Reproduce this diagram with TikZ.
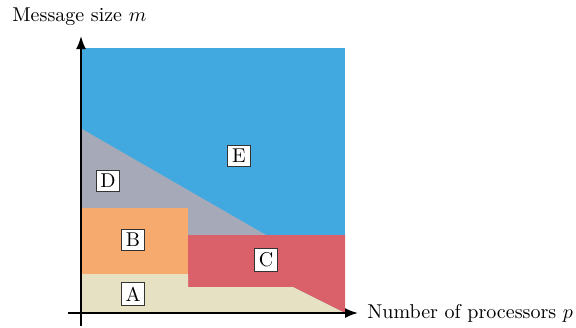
\documentclass[tikz,border=0pt]{standalone}
\usetikzlibrary{arrows.meta}
\definecolor{cE}{RGB}{66,169,224}
\definecolor{cD}{RGB}{165,169,184}
\definecolor{cB}{RGB}{246,170,110}
\definecolor{cC}{RGB}{218,96,106}
\definecolor{cA}{RGB}{230,225,194}
\begin{document}
\begin{tikzpicture}[x=0.5pt,y=-0.5pt,
  lab/.style={draw=black!80,fill=white,inner sep=2pt,line width=0.4pt,minimum width=11.5pt,minimum height=10.5pt},
  axis/.style={line width=0.9pt,-{Latex[length=6.5pt,width=5pt]}},
  axlab/.style={inner sep=0pt}]
\useasboundingbox (0,0) rectangle (576,327);
\fill[cE] (82,48) rectangle (345,313);
\fill[cD] (82,129) -- (266,235) -- (82,235) -- cycle;
\fill[cB] (82,208) rectangle (188,274);
\fill[cC] (188,235) -- (345,235) -- (345,313) -- (293,287) -- (188,287) -- cycle;
\fill[cA] (82,274) -- (188,274) -- (188,287) -- (293,287) -- (345,313) -- (82,313) -- cycle;
\node[lab] (E) at (239,156) {E};
\node[lab] (D) at (108,181) {D};
\node[lab] (B) at (133,240) {B};
\node[lab] (C) at (266,260) {C};
\node[lab] (A) at (133,294) {A};
\coordinate (xs) at (68,313);
\coordinate (xe) at (358,313);
\coordinate (ys) at (81,326);
\coordinate (ye) at (81,36);
\draw[axis] (xs) -- (xe);
\draw[axis] (ys) -- (ye);
\node[axlab,anchor=west] (xl) at (367,313) {Number of processors $p$};
\node[axlab,anchor=west] (yl) at (12,17) {Message size $m$};
\end{tikzpicture}
\end{document}
